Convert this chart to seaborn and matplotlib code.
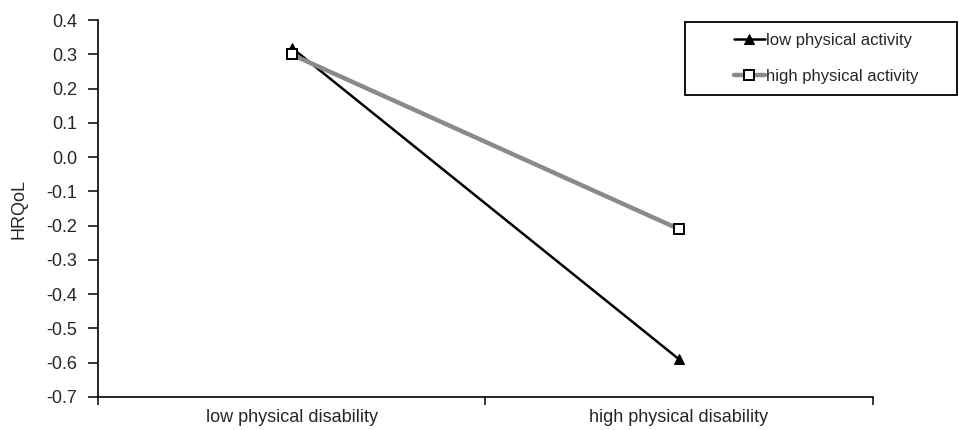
import numpy as np
import pandas as pd
import matplotlib
matplotlib.use("Agg")
import matplotlib.pyplot as plt
from matplotlib.patches import Rectangle
import seaborn as sns

categories = ["low physical disability", "high physical disability"]
low_activity = [0.32, -0.59]
high_activity = [0.30, -0.21]
series_names = ["low physical activity", "high physical activity"]
y_ticks = [-0.7, -0.6, -0.5, -0.4, -0.3, -0.2, -0.1, 0.0, 0.1, 0.2, 0.3, 0.4]

sns.set_style("white")
plt.rcParams["font.family"] = ["Liberation Sans", "DejaVu Sans"]

rows = []
for name, vals in zip(series_names, [low_activity, high_activity]):
    for i, v in enumerate(vals):
        rows.append({"group": name, "pos": i, "HRQoL": v})
df = pd.DataFrame(rows)

fig = plt.figure(figsize=(9.59, 4.30), dpi=100)
ax = fig.add_axes([0.102, 0.077, 0.808, 0.876])

sns.lineplot(data=df[df.group == series_names[0]], x="pos", y="HRQoL", ax=ax,
             color="black", linewidth=1.8, marker="^", markersize=7.5,
             markerfacecolor="black", markeredgecolor="black",
             label=series_names[0])
sns.lineplot(data=df[df.group == series_names[1]], x="pos", y="HRQoL", ax=ax,
             color="#8a8a8a", linewidth=3.2, marker="s", markersize=7.5,
             markerfacecolor="white", markeredgecolor="black", markeredgewidth=1.4,
             label=series_names[1])

ax.set_xlim(-0.5, 1.5)
ax.set_ylim(-0.7, 0.4)
ax.set_yticks(y_ticks)
ax.set_yticklabels([f"{t:.1f}" for t in y_ticks], fontsize=13)
ax.set_xticks([-0.5, 0.5, 1.5])
ax.set_xticklabels([])
ax.set_xticks([0, 1], minor=True)
ax.set_xticklabels(categories, minor=True, fontsize=13)
ax.tick_params(axis="x", which="minor", bottom=False, length=0, pad=9)
ax.tick_params(axis="x", which="major", bottom=True, length=6, width=1.1,
               direction="out", color="black")
ax.tick_params(axis="y", left=True, length=7, width=1.1, direction="out",
               color="black", pad=8)
ax.set_xlabel("")
ax.set_ylabel("HRQoL", fontsize=13, labelpad=13)

for s in ["top", "right"]:
    ax.spines[s].set_visible(False)
for s in ["left", "bottom"]:
    ax.spines[s].set_color("black")
    ax.spines[s].set_linewidth(1.2)

# legend box drawn separately so it can be wider than its entries
box = Rectangle((685 / 959, 1 - 95 / 430), (957 - 685) / 959, (95 - 22) / 430,
                transform=fig.transFigure, facecolor="white", edgecolor="black",
                linewidth=1.3, zorder=5)
fig.patches.append(box)
leg = fig.legend(*ax.get_legend_handles_labels(), loc="center",
                 bbox_to_anchor=(826 / 959, 1 - 58.5 / 430), frameon=False,
                 fontsize=12, handlelength=1.9, handletextpad=0.05,
                 labelspacing=1.3, borderpad=0)
leg.set_zorder(6)
ax.get_legend().remove()

fig.savefig("out.png", dpi=100)
